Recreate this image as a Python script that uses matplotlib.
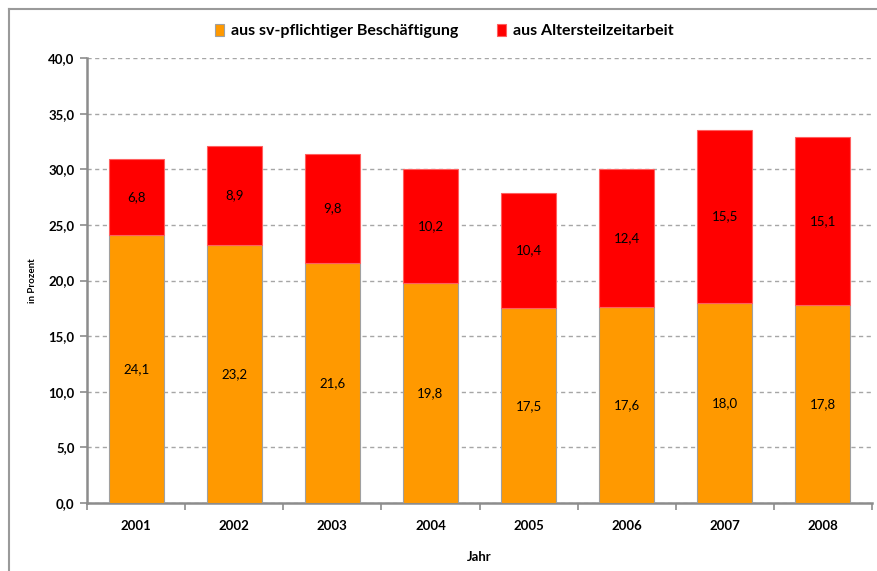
import matplotlib
matplotlib.use("Agg")
from matplotlib import pyplot as plt
from matplotlib.lines import Line2D
import numpy as np

plt.rcParams['font.family'] = ['Lato', 'DejaVu Sans']

# data
years = ['2001', '2002', '2003', '2004', '2005', '2006', '2007', '2008']
sv_pflichtig = [24.1, 23.2, 21.6, 19.8, 17.5, 17.6, 18.0, 17.8]
altersteilzeit = [6.8, 8.9, 9.8, 10.2, 10.4, 12.4, 15.5, 15.1]
yticks = [0, 5, 10, 15, 20, 25, 30, 35, 40]

ORANGE = '#ff9900'
RED = '#ff0000'
GREY = '#8c8c8c'

fig = plt.figure(figsize=(8.77, 5.71), dpi=100)
ax = fig.add_axes([87/877, 68/571, 785/877, 445/571])

x = np.arange(len(years))
w = 0.56
b1 = ax.bar(x, sv_pflichtig, w, color=ORANGE, edgecolor='#a0a0a0', linewidth=0.8,
            label='aus sv-pflichtiger Beschäftigung', zorder=3)
b2 = ax.bar(x, altersteilzeit, w, bottom=sv_pflichtig, color=RED, edgecolor='#ff6060',
            linewidth=0.8, label='aus Altersteilzeitarbeit', zorder=3)

for xi, a, b in zip(x, sv_pflichtig, altersteilzeit):
    ax.text(xi, a/2, f'{a:.1f}'.replace('.', ','), ha='center', va='center', fontsize=9.5, zorder=4)
    ax.text(xi, a + b/2, f'{b:.1f}'.replace('.', ','), ha='center', va='center', fontsize=9.5, zorder=4)

ax.set_xlim(-0.5, len(years) - 0.5)
ax.set_ylim(0, 40)
ax.set_yticks(yticks)
ax.set_yticklabels([f'{v:.1f}'.replace('.', ',') for v in yticks], fontsize=9.5, fontweight='bold')
ax.grid(axis='y', linestyle=(0, (3, 2.5)), color='#a6a6a6', linewidth=1, zorder=0)

# category ticks on boundaries, labels in the middle
ax.set_xticks(np.arange(len(years) + 1) - 0.5)
ax.set_xticklabels([])
ax.set_xticks(x, minor=True)
ax.set_xticklabels(years, minor=True, fontsize=9.5, fontweight='bold')
ax.tick_params(axis='x', which='minor', length=0, pad=12)
ax.tick_params(axis='x', which='major', length=5, color=GREY, width=1.2)
ax.tick_params(axis='y', length=5, color=GREY, width=1.2, pad=4)

for s in ['top', 'right']:
    ax.spines[s].set_visible(False)
for s in ['left', 'bottom']:
    ax.spines[s].set_color(GREY)
    ax.spines[s].set_linewidth(1.8)

ax.set_xlabel('Jahr', fontsize=9.5, fontweight='bold', labelpad=14)
ax.set_ylabel('in Prozent', fontsize=7, fontweight='bold', labelpad=8)

fig.legend(handles=[b1, b2], loc='center', bbox_to_anchor=(444/877, 1 - 31/571), ncol=2,
           frameon=False, prop={'weight': 'bold', 'size': 11.5}, handlelength=0.6,
           handleheight=0.8, columnspacing=2.4, handletextpad=0.4)

# outer chart frame (cut by the image edge)
fig.add_artist(Line2D([9/877, 9/877], [0, 1 - 9/571], color='#9a9a9a', linewidth=1.5))
fig.add_artist(Line2D([9/877, 1], [1 - 9/571, 1 - 9/571], color='#9a9a9a', linewidth=1.5))

fig.savefig('out.png', dpi=100)
